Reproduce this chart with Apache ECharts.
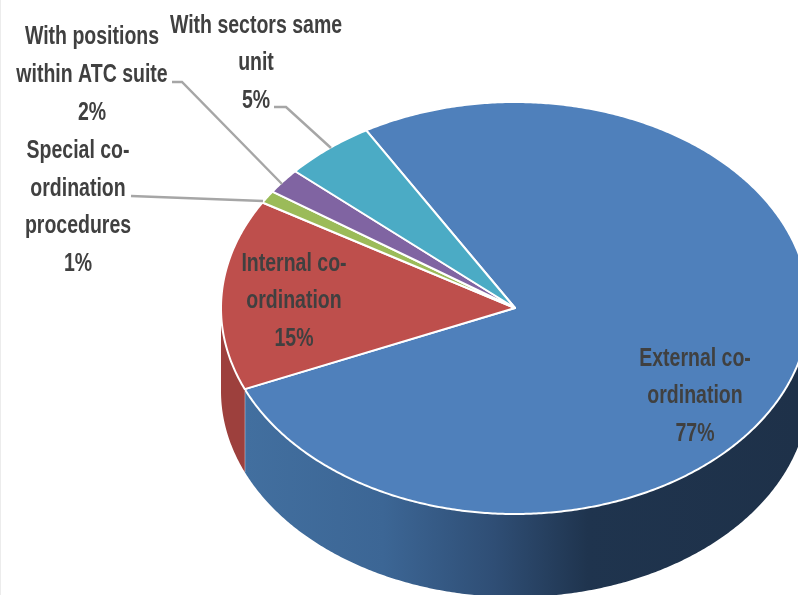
<!DOCTYPE html>
<html>
<head>
<meta charset="utf-8">
<style>html,body{margin:0;padding:0;background:#fff}#chart{width:798px;height:595px}</style>
<script src="https://cdn.jsdelivr.net/npm/echarts@6/dist/echarts.min.js"></script>
</head>
<body>
<div id="chart"></div>
<script>
// Share of co-ordination by type, clockwise from the first slice
const categories = ['External co-\nordination', 'Internal co-\nordination', 'Special co-\nordination\nprocedures', 'With positions\nwithin ATC suite', 'With sectors same\nunit'];
const shares = [77, 15, 1, 2, 5];
const topColors = ['#4f80bb', '#be4f4c', '#9bbb59', '#8064a2', '#4babc5'];
const wallColors = ['#3f6c9e', '#9d403d', '#7c9647', '#665082', '#3c899e'];

// Tilted disc geometry
const disc = { cx: 515, cy: 308, rx: 294, ry: 206, depth: 83, startAngle: 120.4 };
// Label anchors (centre x, centre y of the text block) and leader lines
const labelAnchors = [[695, 396.5], [294, 301.5], [78, 207.5], [92, 75], [256, 63.5]];
const leaders = [null, null, [[131, 196], [263, 201]], [[172, 82], [182, 82], [282, 184]], [[274, 107], [286, 107], [331, 148]]];

const rad = d => d * Math.PI / 180;
const rimPoint = (a, drop) => [
  disc.cx + disc.rx * Math.cos(rad(a)),
  disc.cy - disc.ry * Math.sin(rad(a)) + (drop || 0)
];
function arcPoints(from, to, drop) {
  const pts = [];
  const n = Math.max(2, Math.ceil(Math.abs(from - to) * 2));
  for (let i = 0; i <= n; i++) pts.push(rimPoint(from + (to - from) * i / n, drop));
  return pts;
}

const wallShade = new echarts.graphic.LinearGradient(245, 0, 798, 0, [
  { offset: 0, color: '#426f9f' },
  { offset: 0.25, color: '#3c6695' },
  { offset: 0.45, color: '#2f4e75' },
  { offset: 0.62, color: '#1f344e' },
  { offset: 1, color: '#1e3149' }
], true);

const total = shares.reduce((a, b) => a + b, 0);

function renderSlice(params, api) {
  const i = params.dataIndex;
  const before = shares.slice(0, i).reduce((a, b) => a + b, 0);
  const a0 = disc.startAngle - before / total * 360;
  const a1 = a0 - api.value(0) / total * 360;
  const children = [];

  // Only the front half of the rim shows a wall
  const wFrom = Math.min(a0, 0);
  const wTo = Math.max(a1, -180);
  if (wFrom > wTo) {
    const upper = arcPoints(wFrom, wTo, 0);
    const lower = arcPoints(wTo, wFrom, disc.depth);
    children.push({
      type: 'polygon',
      shape: { points: upper.concat(lower) },
      style: { fill: i === 0 ? wallShade : wallColors[i] }
    });
    if (i === 0) {
      const s = rimPoint(a1, 0);
      children.push({
        type: 'line',
        shape: { x1: s[0], y1: s[1], x2: s[0], y2: s[1] + disc.depth },
        style: { stroke: 'rgba(235,240,245,0.75)', lineWidth: 1 }
      });
    }
  }

  children.push({
    type: 'polygon',
    shape: { points: [[disc.cx, disc.cy]].concat(arcPoints(a0, a1, 0)) },
    style: { fill: topColors[i], stroke: '#fff', lineWidth: 2, lineJoin: 'round' }
  });

  if (leaders[i]) {
    children.push({
      type: 'polyline',
      shape: { points: leaders[i] },
      style: { fill: 'none', stroke: '#a6a6a6', lineWidth: 2.4 }
    });
  }

  children.push({
    type: 'text',
    x: labelAnchors[i][0],
    y: labelAnchors[i][1],
    scaleX: 0.78,
    style: {
      text: api.value(1) + '\n' + api.value(0) + '%',
      fontFamily: '"Liberation Sans", sans-serif',
      fontWeight: 'bold',
      fontSize: 25,
      lineHeight: 37.7,
      fill: '#404040',
      align: 'center',
      verticalAlign: 'middle'
    }
  });

  return { type: 'group', children };
}

const chart = echarts.init(document.getElementById('chart'), null, { renderer: 'canvas' });
chart.setOption({
  animation: false,
  backgroundColor: '#fff',
  graphic: [{
    type: 'rect',
    silent: true,
    shape: { x: 0, y: 0, width: 1, height: 595 },
    style: { fill: '#ececec' }
  }],
  series: [{
    type: 'custom',
    coordinateSystem: 'none',
    silent: true,
    clip: false,
    renderItem: renderSlice,
    dimensions: ['share', 'name'],
    data: shares.map((v, i) => [v, categories[i]])
  }]
});
</script>
</body>
</html>
